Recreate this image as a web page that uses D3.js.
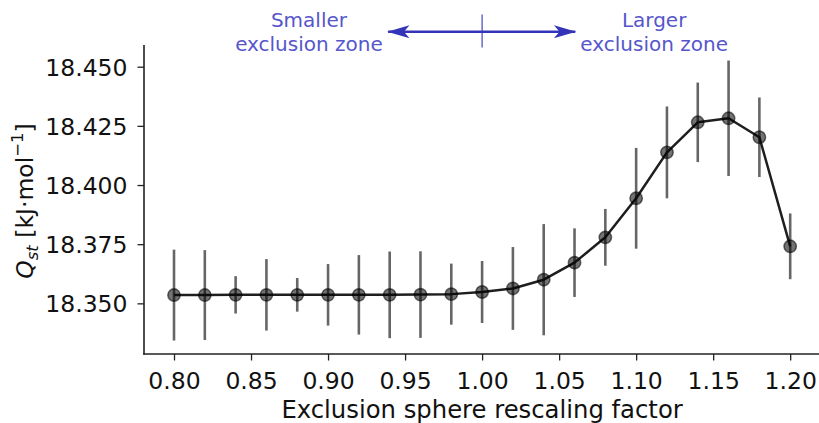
<!DOCTYPE html>
<html><head><meta charset="utf-8">
<script src="https://cdn.jsdelivr.net/npm/d3@7"></script>
<style>
html,body{margin:0;padding:0;background:#fff;}
text{font-family:"DejaVu Sans",sans-serif;}
</style></head>
<body>
<svg id="chart" width="819" height="423"></svg>
<script>
const factors = [0.80,0.82,0.84,0.86,0.88,0.90,0.92,0.94,0.96,0.98,1.00,1.02,1.04,1.06,1.08,1.10,1.12,1.14,1.16,1.18,1.20];
const qst     = [18.3535,18.3535,18.3536,18.3536,18.3536,18.3536,18.3536,18.3536,18.3537,18.3539,18.3548,18.3563,18.3600,18.3672,18.3779,18.3944,18.4138,18.4265,18.4282,18.4202,18.3741];
const qstErr  = [0.0192,0.0190,0.0079,0.0151,0.0071,0.0130,0.0168,0.0183,0.0183,0.0129,0.0131,0.0175,0.0235,0.0145,0.0120,0.0213,0.0194,0.0168,0.0244,0.0168,0.0139];
const xTicks  = [0.80,0.85,0.90,0.95,1.00,1.05,1.10,1.15,1.20];
const yTicks  = [18.350,18.375,18.400,18.425,18.450];
const xDomain = [0.78,1.22];
const yDomain = [18.3286,18.4590];

const svg = d3.select("#chart");
const M = {left:144, right:821, top:45, bottom:354};
const x = d3.scaleLinear().domain(xDomain).range([M.left-0.8, M.right]);
const y = d3.scaleLinear().domain(yDomain).range([M.bottom, M.top+0.4]);
const FS = "23.5px";

const data = factors.map((f,i)=>({x:f, y:qst[i], e:qstErr[i]}));

// axes
const xAxis = svg.append("g").attr("transform",`translate(0,${M.bottom})`)
  .call(d3.axisBottom(x).tickValues(xTicks).tickFormat(d3.format(".2f")).tickSizeOuter(0).tickSize(6.5).tickPadding(5));
const yAxis = svg.append("g").attr("transform",`translate(${M.left},0)`)
  .call(d3.axisLeft(y).tickValues(yTicks).tickFormat(d3.format(".3f")).tickSizeOuter(0).tickSize(6.5).tickPadding(10));
[xAxis,yAxis].forEach(g=>{
  g.select(".domain").remove();
  g.selectAll(".tick line").attr("stroke","#222").attr("stroke-width",1.3);
  g.selectAll(".tick text").attr("fill","#111").style("font-size",FS).attr("font-family","DejaVu Sans");
});
xAxis.selectAll(".tick text").attr("dy","0.98em");
yAxis.selectAll(".tick text").attr("dy","0.36em");
// spines
svg.append("line").attr("x1",M.left).attr("x2",M.left).attr("y1",M.top).attr("y2",M.bottom+0.8)
  .attr("stroke","#222").attr("stroke-width",1.6);
svg.append("line").attr("x1",M.left-0.8).attr("x2",M.right).attr("y1",M.bottom).attr("y2",M.bottom)
  .attr("stroke","#222").attr("stroke-width",1.6);

// error bars
svg.append("g").selectAll("line").data(data).join("line")
  .attr("x1",d=>x(d.x)).attr("x2",d=>x(d.x))
  .attr("y1",d=>y(d.y-d.e)).attr("y2",d=>y(d.y+d.e))
  .attr("stroke","#000").attr("stroke-opacity",0.6).attr("stroke-width",2.6);

// line
svg.append("path").datum(data)
  .attr("d", d3.line().x(d=>x(d.x)).y(d=>y(d.y)))
  .attr("fill","none").attr("stroke","#1e1e1e").attr("stroke-width",2.5).attr("stroke-linejoin","round");

// markers
svg.append("g").selectAll("circle").data(data).join("circle")
  .attr("cx",d=>x(d.x)).attr("cy",d=>y(d.y)).attr("r",6.2)
  .attr("fill","#000").attr("fill-opacity",0.55)
  .attr("stroke","#000").attr("stroke-opacity",0.55).attr("stroke-width",1.5);

// axis labels
svg.append("text").attr("x",(x(0.80)+x(1.20))/2).attr("y",418)
  .attr("text-anchor","middle").style("font-size","24.3px").attr("fill","#111")
  .text("Exclusion sphere rescaling factor");

const yl = svg.append("text").attr("transform","translate(33,201) rotate(-90)")
  .attr("text-anchor","middle").style("font-size",FS).attr("fill","#111");
yl.append("tspan").attr("font-style","italic").text("Q");
yl.append("tspan").attr("font-style","italic").attr("dy","4.5").style("font-size","16.5px").text("st");
yl.append("tspan").attr("dy","-4.5").text(" [kJ·mol");
yl.append("tspan").attr("dy","-10").style("font-size","16.5px").text("−1");
yl.append("tspan").attr("dy","10").text("]");

// annotation
const annColor = "#5656cc", arrowColor = "#3434b8";
const ay = 31.7;
const arrowFrom = 0.939, arrowTo = 1.0605, center = 1.00;
const defs = svg.append("defs");
defs.append("marker").attr("id","head").attr("viewBox","0 0 24 14").attr("refX",23).attr("refY",7)
  .attr("markerWidth",23).attr("markerHeight",13).attr("markerUnits","userSpaceOnUse").attr("orient","auto-start-reverse")
  .append("path").attr("d","M0,0 L24,7 L0,14 L6,7 Z").attr("fill",arrowColor);
svg.append("line").attr("x1",x(arrowFrom)).attr("x2",x(arrowTo)).attr("y1",ay).attr("y2",ay)
  .attr("stroke",arrowColor).attr("stroke-width",2.4)
  .attr("marker-start","url(#head)").attr("marker-end","url(#head)");
svg.append("line").attr("x1",x(center)).attr("x2",x(center)).attr("y1",14.5).attr("y2",47.5)
  .attr("stroke",arrowColor).attr("stroke-width",1.1);

function ann(xv, lines){
  const t = svg.append("text").attr("text-anchor","middle").style("font-size","20px").attr("fill",annColor);
  lines.forEach((s,i)=>t.append("tspan").attr("x",x(xv)).attr("y",27+i*24).text(s));
}
ann(0.8876, ["Smaller","exclusion zone"]);
ann(1.1117, ["Larger","exclusion zone"]);
</script>
</body></html>
